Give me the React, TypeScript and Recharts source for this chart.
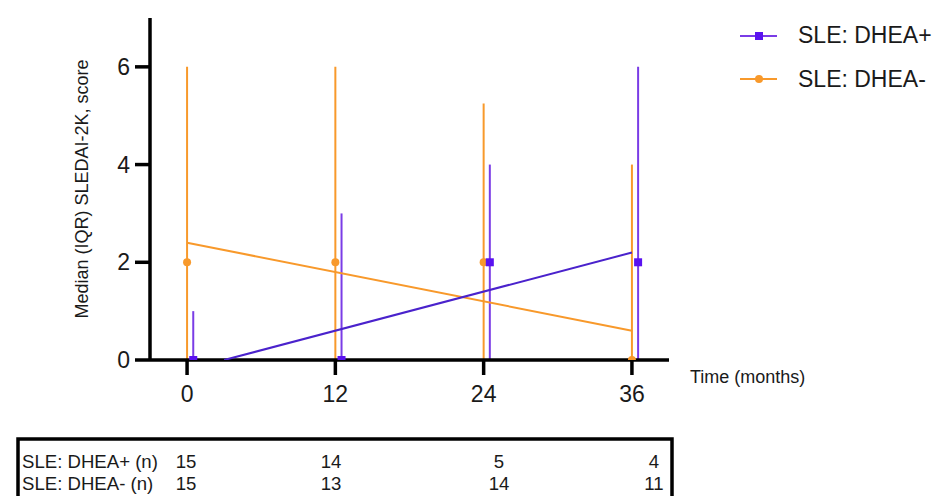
import React from 'react';
import { ComposedChart, Scatter, XAxis, YAxis, ErrorBar } from 'recharts';

// ---- data ----
const months = [0, 12, 24, 36];
const plusMedian = [0, 0, 2, 2];
const plusQ1 = [0, 0, 0, 0];
const plusQ3 = [1, 3, 4, 6];
const minusMedian = [2, 2, 2, 0];
const minusQ1 = [0, 0, 0, 0];
const minusQ3 = [6, 6, 5.25, 4];
const plusN = [15, 14, 5, 4];
const minusN = [15, 13, 14, 11];
const plusTrendX = [3, 36];
const plusTrendY = [0, 2.2];
const minusTrendX = [0, 36];
const minusTrendY = [2.4, 0.6];
const xTicks = [0, 12, 24, 36];
const yTicks = [0, 2, 4, 6];
const seriesNames = ['SLE: DHEA+', 'SLE: DHEA-'];
const tableLabels = ['SLE: DHEA+ (n)', 'SLE: DHEA- (n)'];

const PLUS_DODGE = 0.5; // DHEA+ points are nudged right of the tick

const ORANGE = '#F8992B';
const PURPLE_BAR = '#7A3CE6';
const PURPLE_MARK = '#5A12F0';
const PURPLE_TREND = '#4A22CC';
const FONT = '"Liberation Sans", Arial, Helvetica, sans-serif';
const TEXT = '#1a1a1a';

const plusData = months.map((m, i) => ({
  x: m + PLUS_DODGE,
  y: plusMedian[i],
  err: [plusMedian[i] - plusQ1[i], plusQ3[i] - plusMedian[i]],
}));
const minusData = months.map((m, i) => ({
  x: m,
  y: minusMedian[i],
  err: [minusMedian[i] - minusQ1[i], minusQ3[i] - minusMedian[i]],
}));
const plusTrend = plusTrendX.map((x, i) => ({ x, y: plusTrendY[i] }));
const minusTrend = minusTrendX.map((x, i) => ({ x, y: minusTrendY[i] }));

const Square = (p: any) => (
  <rect x={p.cx - 4} y={p.cy - 4} width={8} height={8} fill={PURPLE_MARK} />
);
const Dot = (p: any) => <circle cx={p.cx} cy={p.cy} r={4} fill={ORANGE} />;
const NoShape = () => <g />;

const tableCols = [186, 331, 499, 654];

export default function App() {
  return (
    <div style={{ position: 'absolute', left: 0, top: 0, width: 940, height: 496, background: '#fff', overflow: 'hidden' }}>
      <ComposedChart
        width={940}
        height={496}
        margin={{ top: 18, right: 271, bottom: 0, left: 0 }}
      >
        <XAxis
          type="number"
          dataKey="x"
          domain={[-3, 39]}
          ticks={xTicks}
          allowDataOverflow
          axisLine={{ stroke: '#000', strokeWidth: 3.5 }}
          tickLine={{ stroke: '#000', strokeWidth: 3.5 }}
          tickSize={15}
          tickMargin={11}
          tick={{ fontSize: 23, fill: TEXT, fontFamily: FONT }}
          height={136}
        />
        <YAxis
          type="number"
          dataKey="y"
          domain={[0, 7]}
          ticks={yTicks}
          allowDataOverflow
          width={150}
          axisLine={{ stroke: '#000', strokeWidth: 3.5 }}
          tickLine={{ stroke: '#000', strokeWidth: 3.5 }}
          tickSize={15}
          tickMargin={5}
          tick={{ fontSize: 23, fill: TEXT, fontFamily: FONT }}
        />
        <Scatter
          name="minusTrend"
          data={minusTrend}
          dataKey="y"
          line={{ stroke: ORANGE, strokeWidth: 2 }}
          shape={NoShape}
          isAnimationActive={false}
        />
        <Scatter
          name="plusTrend"
          data={plusTrend}
          dataKey="y"
          line={{ stroke: PURPLE_TREND, strokeWidth: 2 }}
          shape={NoShape}
          isAnimationActive={false}
        />
        <Scatter
          name={seriesNames[1]}
          data={minusData}
          dataKey="y"
          shape={Dot}
          isAnimationActive={false}
        >
          <ErrorBar dataKey="err" direction="y" width={0} stroke={ORANGE} strokeWidth={2} isAnimationActive={false} />
        </Scatter>
        <Scatter
          name={seriesNames[0]}
          data={plusData}
          dataKey="y"
          shape={Square}
          isAnimationActive={false}
        >
          <ErrorBar dataKey="err" direction="y" width={0} stroke={PURPLE_BAR} strokeWidth={2} isAnimationActive={false} />
        </Scatter>
      </ComposedChart>
      <svg
        width={940}
        height={496}
        style={{ position: 'absolute', left: 0, top: 0, pointerEvents: 'none' }}
        fontFamily={FONT}
      >
        {/* axis titles */}
        <text x={82} y={189} transform="rotate(-90 82 189)" textAnchor="middle" dominantBaseline="central" fontSize={18} fill={TEXT}>
          Median (IQR) SLEDAI-2K, score
        </text>
        <text x={690} y={383} fontSize={18} fill={TEXT}>Time (months)</text>
        {/* legend */}
        <g>
          <line x1={740} y1={36} x2={777} y2={36} stroke={PURPLE_BAR} strokeWidth={2} />
          <rect x={755} y={32} width={8} height={8} fill={PURPLE_MARK} />
          <text x={798} y={43} fontSize={23} fill={TEXT}>{seriesNames[0]}</text>
          <line x1={740} y1={79} x2={777} y2={79} stroke={ORANGE} strokeWidth={2} />
          <circle cx={759} cy={79} r={4} fill={ORANGE} />
          <text x={798} y={87} fontSize={23} fill={TEXT}>{seriesNames[1]}</text>
        </g>
        {/* n-table */}
        <rect x={18} y={439} width={654} height={70} fill="none" stroke="#000" strokeWidth={3.5} />
        <text x={22} y={468} fontSize={18.6} fill={TEXT}>{tableLabels[0]}</text>
        <text x={22} y={490} fontSize={18.6} fill={TEXT}>{tableLabels[1]}</text>
        {plusN.map((n, i) => (
          <text key={'p' + i} x={tableCols[i]} y={468} fontSize={18.6} fill={TEXT} textAnchor="middle">{n}</text>
        ))}
        {minusN.map((n, i) => (
          <text key={'m' + i} x={tableCols[i]} y={490} fontSize={18.6} fill={TEXT} textAnchor="middle">{n}</text>
        ))}
      </svg>
    </div>
  );
}
